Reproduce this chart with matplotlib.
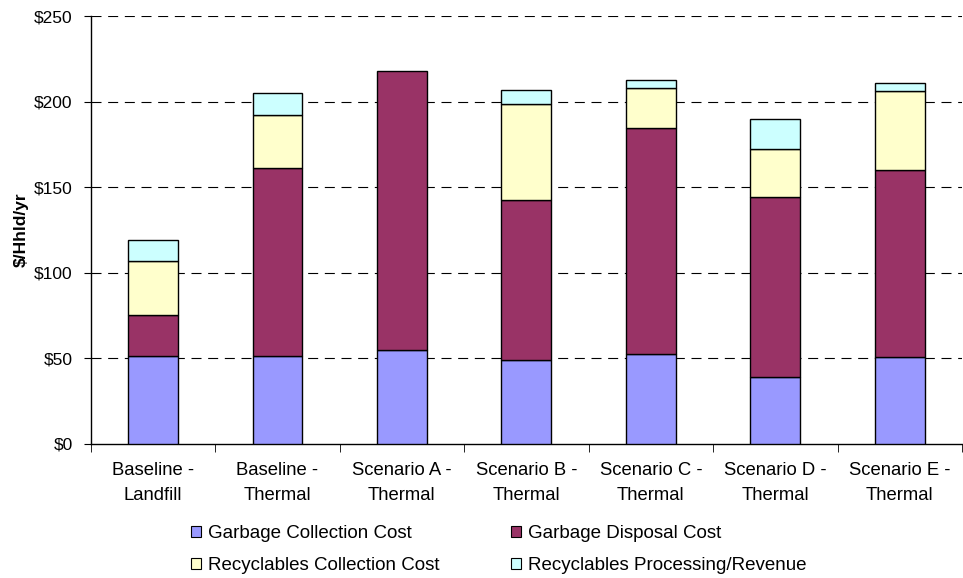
import matplotlib
matplotlib.use("Agg")
import matplotlib.pyplot as plt
from matplotlib.patches import Patch
import numpy as np

plt.rcParams["font.family"] = ["Liberation Sans", "DejaVu Sans"]

categories = [
    "Baseline -\nLandfill",
    "Baseline -\nThermal",
    "Scenario A -\nThermal",
    "Scenario B -\nThermal",
    "Scenario C -\nThermal",
    "Scenario D -\nThermal",
    "Scenario E -\nThermal",
]
series_names = [
    "Garbage Collection Cost",
    "Garbage Disposal Cost",
    "Recyclables Collection Cost",
    "Recyclables Processing/Revenue",
]
garbage_collection = [51.0, 51.0, 54.5, 49.0, 52.5, 39.2, 50.9]
garbage_disposal = [24.0, 110.0, 163.5, 93.2, 132.3, 104.9, 109.1]
recyclables_collection = [31.5, 31.0, 0.0, 56.3, 23.1, 28.2, 46.3]
recyclables_processing = [12.5, 12.7, 0.0, 8.0, 4.8, 17.2, 4.5]
y_ticks = [0, 50, 100, 150, 200, 250]
y_tick_labels = ["$0", "$50", "$100", "$150", "$200", "$250"]

colors = ["#9999FF", "#993366", "#FFFFCC", "#CCFFFF"]

fig = plt.figure(figsize=(9.63, 5.78), dpi=100)
ax = fig.add_axes([0.0942, 0.2325, 0.9048, 0.7398])

x = np.arange(len(categories))
bottom = np.zeros(len(categories))
handles = []
for name, vals, col in zip(series_names,
                           [garbage_collection, garbage_disposal,
                            recyclables_collection, recyclables_processing],
                           colors):
    vals = np.array(vals)
    # empty segments get no outline so they don't leave a stray line
    edges = ["black" if v > 0 else "none" for v in vals]
    ax.bar(x, vals, 0.4, bottom=bottom, color=col, edgecolor=edges,
           linewidth=1.0, zorder=3)
    bottom += vals
    handles.append(Patch(facecolor=col, edgecolor="black", linewidth=0.8,
                         label=name))

ax.set_xlim(-0.5, len(categories) - 0.5)
ax.set_ylim(0, 250)

for v in y_ticks[1:]:
    ax.axhline(v, color="black", linewidth=0.8, linestyle=(0, (9, 6)),
               zorder=1)

ax.set_yticks(y_ticks)
ax.set_yticklabels(y_tick_labels, fontsize=12.5)
ax.tick_params(axis="y", direction="out", length=5, width=0.8, pad=8,
               colors="black")

ax.set_xticks(x)
ax.set_xticklabels(categories, fontsize=13.3, linespacing=1.6)
ax.tick_params(axis="x", which="major", length=0, pad=13.5)
ax.set_xticks(np.arange(-0.5, len(categories) + 0.5, 1), minor=True)
ax.tick_params(axis="x", which="minor", direction="out", length=6, width=0.6)

for s in ["top", "right"]:
    ax.spines[s].set_visible(False)
ax.spines["left"].set_linewidth(1.0)
ax.spines["bottom"].set_linewidth(1.0)

ax.set_ylabel("$/Hhld/yr", fontsize=12.5, fontweight="bold", labelpad=4)

legend_kw = dict(ncol=1, loc="center left", frameon=False, fontsize=13.5,
                 handlelength=0.53, handleheight=0.53, handletextpad=0.37,
                 labelspacing=0.77, borderaxespad=0, borderpad=0)
fig.legend([handles[0], handles[2]], [series_names[0], series_names[2]],
           bbox_to_anchor=(191 / 963, 0.0493), **legend_kw)
fig.legend([handles[1], handles[3]], [series_names[1], series_names[3]],
           bbox_to_anchor=(511 / 963, 0.0493), **legend_kw)

fig.savefig("out.png", dpi=100)
